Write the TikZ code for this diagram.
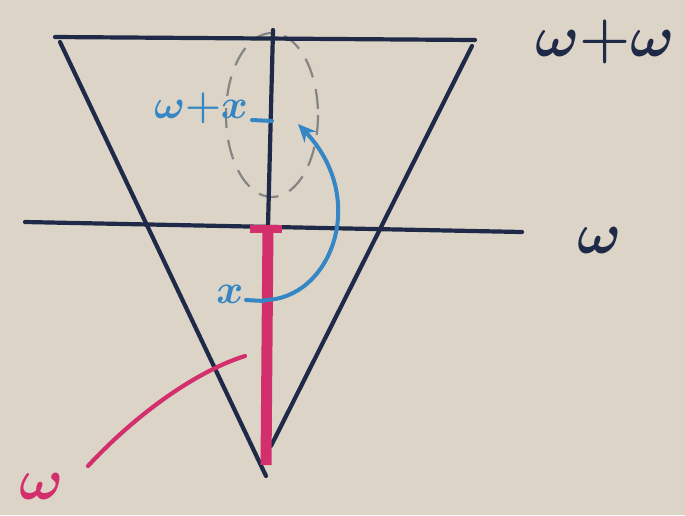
\documentclass[tikz,border=0pt]{standalone}
\usetikzlibrary{arrows.meta}
\definecolor{paper}{HTML}{DCD4C7}
\definecolor{ink}{HTML}{1E2A48}
\definecolor{blueink}{HTML}{3487C4}
\definecolor{pinkink}{HTML}{D22F6C}
\definecolor{dashgray}{HTML}{858585}
\tikzset{
  navy/.style={ink, line width=4.2pt, line cap=round},
  bluepen/.style={blueink, line width=4pt, line cap=round},
  pinkpen/.style={pinkink, line width=4.2pt, line cap=round},
  biglbl/.style={font=\Huge\boldmath, scale=2.35},
  midlbl/.style={font=\Huge\boldmath, scale=1.65},
}
\begin{document}
\begin{tikzpicture}[x=1pt,y=-1pt]
\fill[paper] (0,0) rectangle (685,515);
\useasboundingbox (0,0) rectangle (685,515);
% coordinates
\coordinate (tl) at (55,37);
\coordinate (tr) at (475,40);
\coordinate (lt) at (60,42);
\coordinate (rt) at (472,46);
\coordinate (apex) at (266,476);
\coordinate (rapex) at (271,446);
\coordinate (ctop) at (273,30);
\coordinate (cmid) at (268,226);
\coordinate (ml) at (25,222);
\coordinate (mr) at (522,232);
\coordinate (pbot) at (266,465);
\coordinate (xpt) at (264,300);
\coordinate (wxpt) at (265,120);
% dashed ellipse
\draw[dashgray, line width=2.2pt, dash pattern=on 20pt off 12pt] (272,115) ellipse [x radius=46, y radius=82];
% lines
\draw[navy] (tl) -- (tr);
\draw[navy] (lt) -- (apex);
\draw[navy] (rt) -- (rapex);
\draw[navy] (ctop) -- (cmid);
\draw[navy] (ml) -- (mr);
% pink
\draw[pinkink, line width=11pt] (cmid) -- (pbot);
\draw[pinkink, line width=8pt] (250,229) -- (282,229);
\draw[pinkpen] (88,466) .. controls (140,410) and (200,370) .. (245,356);
% blue
\draw[bluepen, -{Stealth[length=18pt,width=16pt]}] (xpt) .. controls (330,300) and (370,200) .. (298,124);
\draw[bluepen] (252,120) -- (272,121);
\draw[bluepen] (246,300) -- (264,301);
% labels
\node[biglbl, text=ink] (lww) at (605,42) {$\omega{+}\omega$};
\node[biglbl, text=ink] (lw) at (600,240) {$\omega$};
\node[midlbl, text=blueink] (lwx) at (201,108) {$\omega{+}x$};
\node[midlbl, text=blueink] (lx) at (230,294) {$x$};
\node[biglbl, text=pinkink] (lpw) at (42,486) {$\omega$};
\end{tikzpicture}
\end{document}
